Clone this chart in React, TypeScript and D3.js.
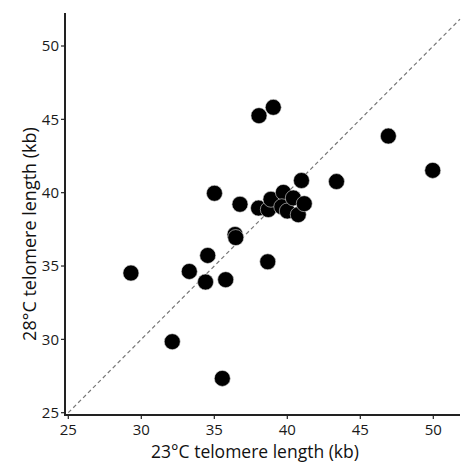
import React, { useEffect, useRef } from "react";
import * as d3 from "d3";

const temp23: number[] = [29.29, 32.12, 33.29, 34.40, 34.55, 35.01, 35.78, 35.55, 36.42, 36.47, 36.76, 38.03, 38.06, 39.04, 38.66, 38.70, 38.88, 39.73, 39.62, 40.0, 40.41, 40.75, 41.16, 40.97, 43.37, 46.92, 49.96];
const temp28: number[] = [34.52, 29.84, 34.63, 33.91, 35.72, 39.96, 34.07, 27.34, 37.15, 36.94, 39.21, 38.95, 45.25, 45.82, 35.29, 38.85, 39.55, 40.02, 39.04, 38.75, 39.64, 38.50, 39.25, 40.83, 40.76, 43.86, 41.52];
const xTicks: number[] = [25, 30, 35, 40, 45, 50];
const yTicks: number[] = [25, 30, 35, 40, 45, 50];
const xTitle = "23°C telomere length (kb)";
const yTitle = "28°C telomere length (kb)";

const W = 461;
const H = 469;

export default function App() {
  const ref = useRef<SVGSVGElement | null>(null);
  useEffect(() => {
    const svg = d3.select(ref.current);
    svg.selectAll("*").remove();
    const x = d3.scaleLinear().domain([25, 50]).range([68.3, 433.3]);
    const y = d3.scaleLinear().domain([25, 50]).range([412.7, 46]);
    const x0 = 65, x1 = 460, yb = 415, yt = 13;
    const font = "'Open Sans', sans-serif";

    // diagonal identity line
    const dMin = 25, dMax = Math.min(x.invert(x1), y.invert(yt));
    svg.append("line")
      .attr("x1", x(dMin)).attr("y1", y(dMin))
      .attr("x2", x(dMax)).attr("y2", y(dMax))
      .attr("stroke", "#777").attr("stroke-width", 1.2)
      .attr("stroke-dasharray", "4,3");

    // axes lines
    svg.append("line").attr("x1", x0).attr("x2", x0).attr("y1", yt).attr("y2", yb + 1)
      .attr("stroke", "#222").attr("stroke-width", 2);
    svg.append("line").attr("x1", x0 - 1).attr("x2", x1).attr("y1", yb).attr("y2", yb)
      .attr("stroke", "#222").attr("stroke-width", 2);

    // x ticks
    const xg = svg.append("g");
    xTicks.forEach((t) => {
      xg.append("line").attr("x1", x(t)).attr("x2", x(t)).attr("y1", yb).attr("y2", yb + 4)
        .attr("stroke", "#222").attr("stroke-width", 1.2);
      xg.append("text").attr("x", x(t)).attr("y", yb + 20)
        .attr("text-anchor", "middle").attr("font-family", font).attr("font-size", 15)
        .attr("fill", "#1a1a1a").text(String(t));
    });
    // y ticks
    const yg = svg.append("g");
    yTicks.forEach((t) => {
      yg.append("line").attr("x1", x0 - 4).attr("x2", x0).attr("y1", y(t)).attr("y2", y(t))
        .attr("stroke", "#222").attr("stroke-width", 1.2);
      yg.append("text").attr("x", x0 - 6).attr("y", y(t)).attr("dy", "0.35em")
        .attr("text-anchor", "end").attr("font-family", font).attr("font-size", 15)
        .attr("fill", "#1a1a1a").text(String(t));
    });

    // titles
    svg.append("text").attr("x", 255).attr("y", 458)
      .attr("text-anchor", "middle").attr("font-family", font).attr("font-size", 17.5)
      .attr("fill", "#111").text(xTitle);
    svg.append("text").attr("transform", `translate(36,234) rotate(-90)`)
      .attr("text-anchor", "middle").attr("font-family", font).attr("font-size", 18)
      .attr("fill", "#111").text(yTitle);

    // points
    const data = temp23.map((v, i) => ({ a: v, b: temp28[i] }));
    svg.append("g").selectAll("circle").data(data).join("circle")
      .attr("cx", (d) => x(d.a)).attr("cy", (d) => y(d.b)).attr("r", 8)
      .attr("fill", "#000").attr("stroke", "#ddd").attr("stroke-width", 0.6);
  }, []);
  return (
    <svg ref={ref} width={W} height={H}
      style={{ position: "absolute", left: 0, top: 0, background: "#fff" }} />
  );
}
